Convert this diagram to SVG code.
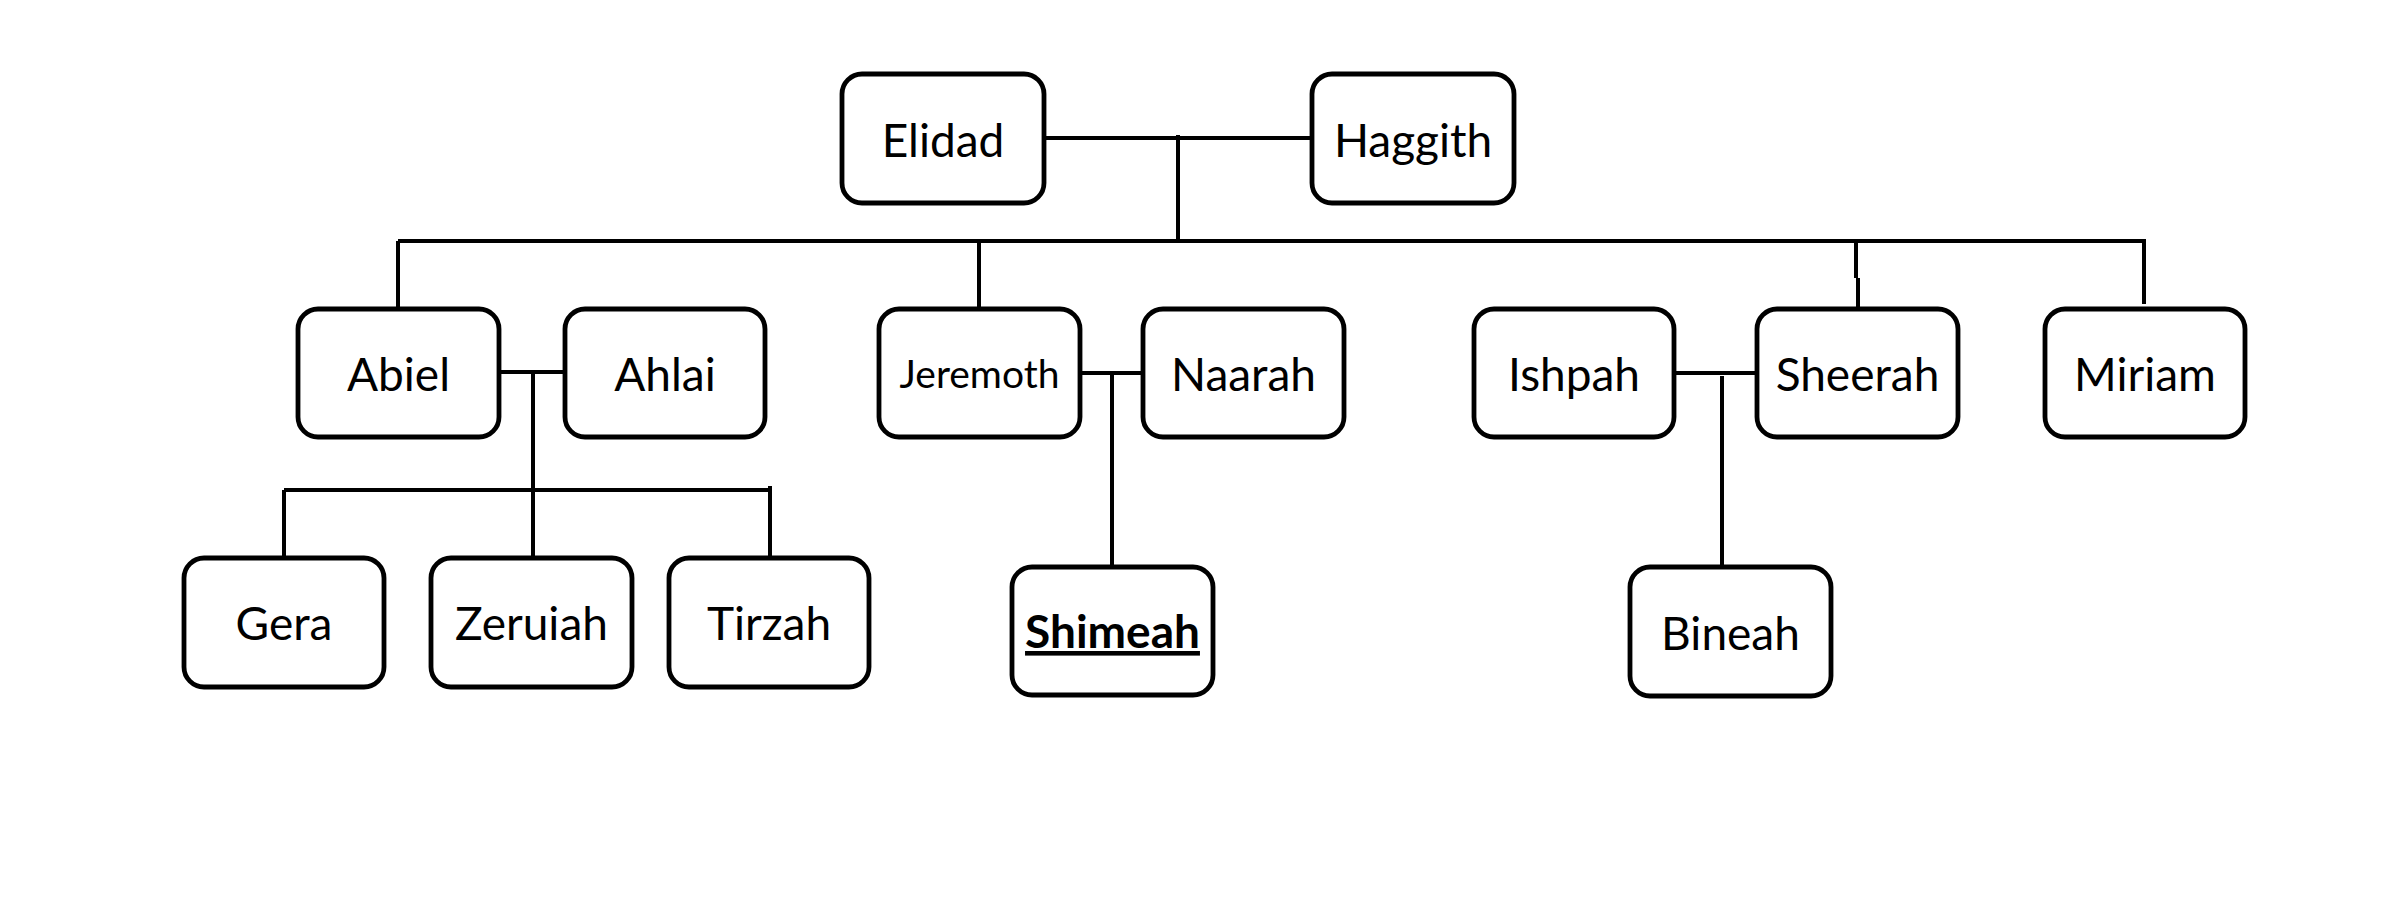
<svg xmlns="http://www.w3.org/2000/svg" width="2400" height="900" viewBox="0 0 2400 900">
<style>
.box{fill:#fff;stroke:#000;stroke-width:4.8}
.lbl{font-family:Lato,"Open Sans","Liberation Sans",sans-serif;font-size:46px;fill:#000;text-anchor:middle}
.small{font-size:39px}
.bold{font-weight:bold;text-decoration:underline}
.conn{stroke:#000;stroke-width:4;fill:none}
</style>
<rect width="2400" height="900" fill="#fff"/>
<g id="connectors" class="conn">
<path d="M1044 138H1312"/>
<path d="M1178 135V242"/>
<path d="M398 241H2146"/>
<path d="M398 241V309"/>
<path d="M979 241V309"/>
<path d="M1856 241V278M1858 278V309"/>
<path d="M2144 241V304"/>
<path d="M499 372H565"/>
<path d="M533 372V558"/>
<path d="M284 490H770"/>
<path d="M284 490V558"/>
<path d="M770 486V558"/>
<path d="M1080 373H1143"/>
<path d="M1112 373V567"/>
<path d="M1674 373H1757"/>
<path d="M1722 376V567"/>
</g>
<g id="elidad"><rect class="box" x="842" y="74" width="202" height="129" rx="20"/><text class="lbl" x="943" y="157">Elidad</text></g>
<g id="haggith"><rect class="box" x="1312" y="74" width="202" height="129" rx="20"/><text class="lbl" x="1413" y="157">Haggith</text></g>
<g id="abiel"><rect class="box" x="298" y="309" width="201" height="128" rx="20"/><text class="lbl" x="398.5" y="391">Abiel</text></g>
<g id="ahlai"><rect class="box" x="565" y="309" width="200" height="128" rx="20"/><text class="lbl" x="665" y="391">Ahlai</text></g>
<g id="jeremoth"><rect class="box" x="879" y="309" width="201" height="128" rx="20"/><text class="lbl small" x="979.5" y="388">Jeremoth</text></g>
<g id="naarah"><rect class="box" x="1143" y="309" width="201" height="128" rx="20"/><text class="lbl" x="1243.5" y="391">Naarah</text></g>
<g id="ishpah"><rect class="box" x="1474" y="309" width="200" height="128" rx="20"/><text class="lbl" x="1574" y="391">Ishpah</text></g>
<g id="sheerah"><rect class="box" x="1757" y="309" width="201" height="128" rx="20"/><text class="lbl" x="1857.5" y="391">Sheerah</text></g>
<g id="miriam"><rect class="box" x="2045" y="309" width="200" height="128" rx="20"/><text class="lbl" x="2145" y="391">Miriam</text></g>
<g id="gera"><rect class="box" x="184" y="558" width="200" height="129" rx="20"/><text class="lbl" x="284" y="640">Gera</text></g>
<g id="zeruiah"><rect class="box" x="431" y="558" width="201" height="129" rx="20"/><text class="lbl" x="531.5" y="640">Zeruiah</text></g>
<g id="tirzah"><rect class="box" x="669" y="558" width="200" height="129" rx="20"/><text class="lbl" x="769" y="640">Tirzah</text></g>
<g id="shimeah"><rect class="box" x="1012" y="567" width="201" height="128" rx="20"/><text class="lbl bold" x="1112.5" y="648">Shimeah</text></g>
<g id="bineah"><rect class="box" x="1630" y="567" width="201" height="129" rx="20"/><text class="lbl" x="1730.5" y="650">Bineah</text></g>
</svg>
